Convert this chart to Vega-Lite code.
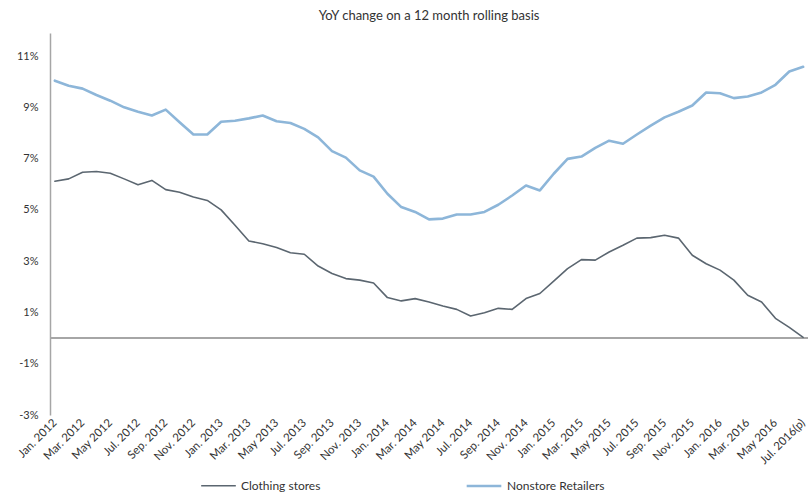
{
  "$schema": "https://vega.github.io/schema/vega-lite/v6.json",
  "autosize": {"type": "none"},
  "padding": {"left": 50, "top": 33, "right": 1, "bottom": 84},
  "width": 758,
  "height": 382,
  "background": "white",
  "config": {
    "font": "Lato",
    "view": {"stroke": null}
  },
  "title": {
    "text": "YoY change on a 12 month rolling basis",
    "fontSize": 13,
    "fontWeight": "normal",
    "color": "#333333",
    "offset": 10,
    "font": "Lato"
  },
  "data": {
    "values": [
      {"month": "Jan. 2012", "Clothing stores": 6.12, "Nonstore Retailers": 10.04},
      {"month": "Feb. 2012", "Clothing stores": 6.21, "Nonstore Retailers": 9.84},
      {"month": "Mar. 2012", "Clothing stores": 6.47, "Nonstore Retailers": 9.73},
      {"month": "Apr. 2012", "Clothing stores": 6.50, "Nonstore Retailers": 9.48},
      {"month": "May 2012", "Clothing stores": 6.43, "Nonstore Retailers": 9.26},
      {"month": "Jun. 2012", "Clothing stores": 6.21, "Nonstore Retailers": 9.00},
      {"month": "Jul. 2012", "Clothing stores": 5.98, "Nonstore Retailers": 8.83},
      {"month": "Aug. 2012", "Clothing stores": 6.15, "Nonstore Retailers": 8.68},
      {"month": "Sep. 2012", "Clothing stores": 5.79, "Nonstore Retailers": 8.91},
      {"month": "Oct. 2012", "Clothing stores": 5.69, "Nonstore Retailers": 8.42},
      {"month": "Nov. 2012", "Clothing stores": 5.50, "Nonstore Retailers": 7.94},
      {"month": "Dec. 2012", "Clothing stores": 5.37, "Nonstore Retailers": 7.94},
      {"month": "Jan. 2013", "Clothing stores": 5.00, "Nonstore Retailers": 8.44},
      {"month": "Feb. 2013", "Clothing stores": 4.40, "Nonstore Retailers": 8.48},
      {"month": "Mar. 2013", "Clothing stores": 3.79, "Nonstore Retailers": 8.57},
      {"month": "Apr. 2013", "Clothing stores": 3.68, "Nonstore Retailers": 8.68},
      {"month": "May 2013", "Clothing stores": 3.53, "Nonstore Retailers": 8.46},
      {"month": "Jun. 2013", "Clothing stores": 3.33, "Nonstore Retailers": 8.39},
      {"month": "Jul. 2013", "Clothing stores": 3.27, "Nonstore Retailers": 8.16},
      {"month": "Aug. 2013", "Clothing stores": 2.81, "Nonstore Retailers": 7.83},
      {"month": "Sep. 2013", "Clothing stores": 2.52, "Nonstore Retailers": 7.29},
      {"month": "Oct. 2013", "Clothing stores": 2.32, "Nonstore Retailers": 7.04},
      {"month": "Nov. 2013", "Clothing stores": 2.26, "Nonstore Retailers": 6.54},
      {"month": "Dec. 2013", "Clothing stores": 2.15, "Nonstore Retailers": 6.30},
      {"month": "Jan. 2014", "Clothing stores": 1.58, "Nonstore Retailers": 5.63},
      {"month": "Feb. 2014", "Clothing stores": 1.45, "Nonstore Retailers": 5.11},
      {"month": "Mar. 2014", "Clothing stores": 1.54, "Nonstore Retailers": 4.92},
      {"month": "Apr. 2014", "Clothing stores": 1.41, "Nonstore Retailers": 4.63},
      {"month": "May 2014", "Clothing stores": 1.25, "Nonstore Retailers": 4.66},
      {"month": "Jun. 2014", "Clothing stores": 1.12, "Nonstore Retailers": 4.82},
      {"month": "Jul. 2014", "Clothing stores": 0.86, "Nonstore Retailers": 4.82},
      {"month": "Aug. 2014", "Clothing stores": 0.99, "Nonstore Retailers": 4.92},
      {"month": "Sep. 2014", "Clothing stores": 1.16, "Nonstore Retailers": 5.20},
      {"month": "Oct. 2014", "Clothing stores": 1.12, "Nonstore Retailers": 5.56},
      {"month": "Nov. 2014", "Clothing stores": 1.54, "Nonstore Retailers": 5.95},
      {"month": "Dec. 2014", "Clothing stores": 1.74, "Nonstore Retailers": 5.76},
      {"month": "Jan. 2015", "Clothing stores": 2.22, "Nonstore Retailers": 6.41},
      {"month": "Feb. 2015", "Clothing stores": 2.71, "Nonstore Retailers": 6.99},
      {"month": "Mar. 2015", "Clothing stores": 3.06, "Nonstore Retailers": 7.08},
      {"month": "Apr. 2015", "Clothing stores": 3.04, "Nonstore Retailers": 7.42},
      {"month": "May 2015", "Clothing stores": 3.36, "Nonstore Retailers": 7.70},
      {"month": "Jun. 2015", "Clothing stores": 3.62, "Nonstore Retailers": 7.58},
      {"month": "Jul. 2015", "Clothing stores": 3.90, "Nonstore Retailers": 7.94},
      {"month": "Aug. 2015", "Clothing stores": 3.92, "Nonstore Retailers": 8.29},
      {"month": "Sep. 2015", "Clothing stores": 4.01, "Nonstore Retailers": 8.61},
      {"month": "Oct. 2015", "Clothing stores": 3.90, "Nonstore Retailers": 8.83},
      {"month": "Nov. 2015", "Clothing stores": 3.23, "Nonstore Retailers": 9.07},
      {"month": "Dec. 2015", "Clothing stores": 2.90, "Nonstore Retailers": 9.58},
      {"month": "Jan. 2016", "Clothing stores": 2.65, "Nonstore Retailers": 9.55},
      {"month": "Feb. 2016", "Clothing stores": 2.26, "Nonstore Retailers": 9.36},
      {"month": "Mar. 2016", "Clothing stores": 1.67, "Nonstore Retailers": 9.42},
      {"month": "Apr. 2016", "Clothing stores": 1.41, "Nonstore Retailers": 9.58},
      {"month": "May 2016", "Clothing stores": 0.77, "Nonstore Retailers": 9.88},
      {"month": "Jun. 2016", "Clothing stores": 0.42, "Nonstore Retailers": 10.40},
      {"month": "Jul. 2016(p)", "Clothing stores": 0.03, "Nonstore Retailers": 10.58}
    ]
  },
  "layer": [
    {
      "mark": {"type": "rule", "color": "#a6a6a6", "strokeWidth": 1.5},
      "encoding": {
        "y": {"datum": 0, "type": "quantitative", "scale": {"domain": [-3, 11.9]}}
      }
    },
    {
      "transform": [
        {"fold": ["Clothing stores", "Nonstore Retailers"], "as": ["series", "value"]}
      ],
      "mark": {"type": "line", "strokeJoin": "round", "strokeCap": "round"},
      "encoding": {
        "x": {
          "field": "month",
          "type": "nominal",
          "sort": null,
          "scale": {"type": "point", "padding": 0.35},
          "axis": {
            "title": null,
            "domain": false,
            "ticks": false,
            "labelAngle": -45,
            "labelAlign": "right",
            "labelBaseline": "middle",
            "labelPadding": 6,
            "labelFontSize": 11.5,
            "labelColor": "#333333",
            "labelFont": "Lato",
            "values": ["Jan. 2012", "Mar. 2012", "May 2012", "Jul. 2012", "Sep. 2012", "Nov. 2012", "Jan. 2013", "Mar. 2013", "May 2013", "Jul. 2013", "Sep. 2013", "Nov. 2013", "Jan. 2014", "Mar. 2014", "May 2014", "Jul. 2014", "Sep. 2014", "Nov. 2014", "Jan. 2015", "Mar. 2015", "May 2015", "Jul. 2015", "Sep. 2015", "Nov. 2015", "Jan. 2016", "Mar. 2016", "May 2016", "Jul. 2016(p)"]
          }
        },
        "y": {
          "field": "value",
          "type": "quantitative",
          "scale": {"domain": [-3, 11.9], "nice": false, "zero": false},
          "axis": {
            "title": null,
            "values": [-3, -1, 1, 3, 5, 7, 9, 11],
            "labelExpr": "datum.value + '%'",
            "grid": false,
            "ticks": false,
            "domainColor": "#a6a6a6",
            "domainWidth": 1.5,
            "labelPadding": 12,
            "labelFontSize": 11,
            "labelColor": "#333333",
            "labelFont": "Lato"
          }
        },
        "color": {
          "field": "series",
          "type": "nominal",
          "scale": {"domain": ["Clothing stores", "Nonstore Retailers"], "range": ["#5b6670", "#8db6d9"]},
          "legend": {
            "title": null,
            "orient": "none",
            "direction": "horizontal",
            "legendX": 150,
            "legendY": 434,
            "symbolType": "stroke",
            "symbolSize": 1200,
            "symbolStrokeWidth": 2,
            "labelFontSize": 12,
            "labelColor": "#333333",
            "labelFont": "Lato",
            "labelOffset": 4,
            "columnPadding": 140
          }
        },
        "strokeWidth": {
          "field": "series",
          "type": "nominal",
          "scale": {"domain": ["Clothing stores", "Nonstore Retailers"], "range": [1.6, 2.6]},
          "legend": null
        }
      }
    }
  ]
}
